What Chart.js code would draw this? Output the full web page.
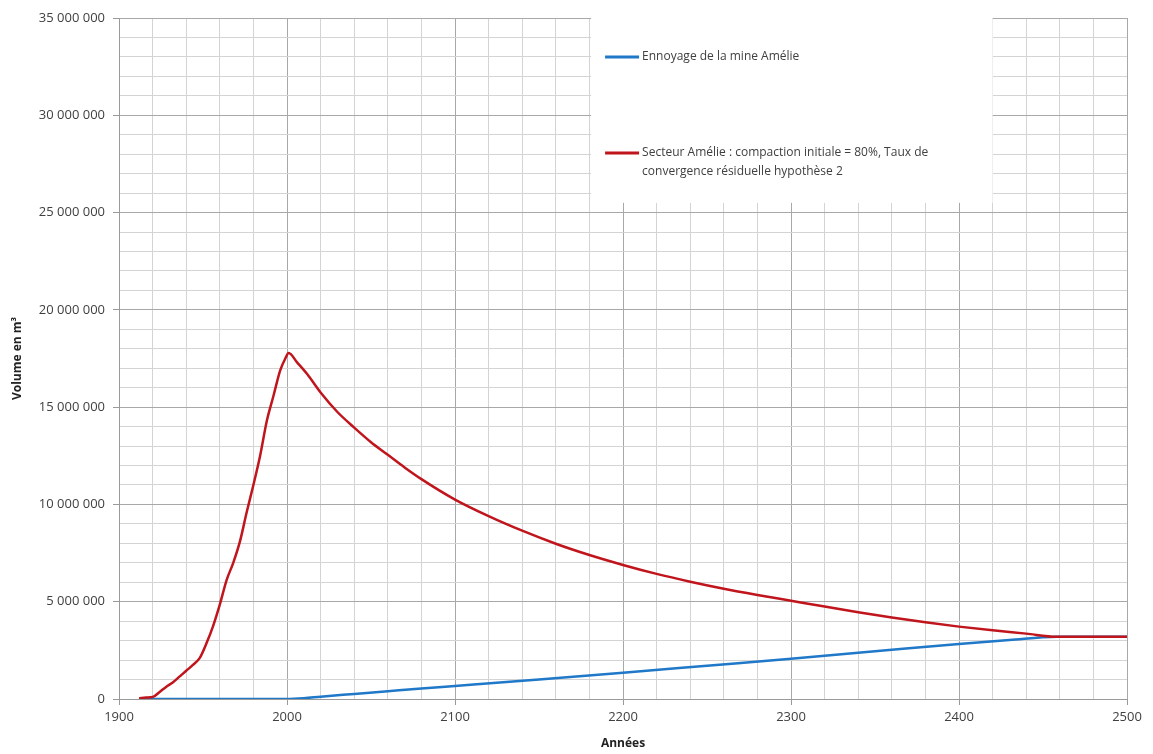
<!DOCTYPE html>
<html>
<head>
<meta charset="utf-8">
<script src="https://cdn.jsdelivr.net/npm/chart.js@4.4.1/dist/chart.umd.min.js"></script>
<style>
  html, body { margin: 0; padding: 0; background: #fff; }
  #wrap { width: 1153px; height: 754px; }
</style>
</head>
<body>
<div id="wrap"><canvas id="chart"></canvas></div>
<script>
// values, in millions of m3
const yearsSecteur = [1912, 1916, 1920, 1924, 1928, 1932, 1936, 1940, 1944, 1948, 1952, 1956, 1960, 1964, 1968, 1972, 1976, 1980, 1984, 1988, 1992, 1996, 1999, 2001, 2006, 2012, 2020, 2030, 2040, 2050, 2060, 2070, 2080, 2100, 2120, 2140, 2160, 2180, 2200, 2220, 2240, 2260, 2280, 2300, 2320, 2340, 2360, 2380, 2400, 2420, 2440, 2458, 2480, 2500];
const volSecteur = [0.03, 0.08, 0.1, 0.35, 0.62, 0.85, 1.15, 1.45, 1.75, 2.1, 2.85, 3.75, 4.85, 6.1, 7.0, 8.1, 9.6, 11.0, 12.5, 14.3, 15.6, 16.9, 17.5, 17.78, 17.3, 16.7, 15.75, 14.75, 13.95, 13.2, 12.55, 11.9, 11.3, 10.25, 9.4, 8.65, 7.98, 7.4, 6.89, 6.43, 6.03, 5.67, 5.35, 5.05, 4.75, 4.46, 4.19, 3.94, 3.72, 3.53, 3.36, 3.2, 3.2, 3.2];

const yearsEnnoyage = [1912, 1950, 2000, 2010, 2020, 2040, 2060, 2080, 2100, 2150, 2200, 2250, 2300, 2350, 2400, 2430, 2458, 2500];
const volEnnoyage = [0, 0, 0, 0.04, 0.12, 0.26, 0.4, 0.54, 0.67, 1.0, 1.35, 1.71, 2.07, 2.45, 2.83, 3.03, 3.2, 3.2];

const labelEnnoyage = 'Ennoyage de la mine Amélie';
const labelSecteur = 'Secteur Amélie : compaction initiale = 80%, Taux de convergence résiduelle hypothèse 2';

const FONT = 'Open Sans';
const TEXT = '#404040';

function toPoints(xs, ys) {
  return xs.map((x, i) => ({ x: x, y: ys[i] * 1e6 }));
}

function fmt(v) {
  return String(Math.round(v)).replace(/\B(?=(\d{3})+(?!\d))/g, ' ');
}

// legend sitting in a white box inside the plot
const boxLegend = {
  id: 'boxLegend',
  beforeDatasetsDraw(chart) {
    const { ctx, scales } = chart;
    const x = scales.x;
    const y = scales.y;
    const left = x.getPixelForValue(2181);
    const right = x.getPixelForValue(2420);
    const top = y.getPixelForValue(35e6);
    const bottom = y.getPixelForValue(25.5e6);
    ctx.save();
    ctx.fillStyle = '#fff';
    ctx.fillRect(left, top, right - left, bottom - top);
    ctx.font = '12px "' + FONT + '"';
    ctx.textBaseline = 'middle';
    const items = [
      { ds: chart.data.datasets[1], y: top + 39 },
      { ds: chart.data.datasets[0], y: top + 135 }
    ];
    items.forEach(it => {
      ctx.strokeStyle = it.ds.borderColor;
      ctx.lineWidth = 3;
      ctx.beginPath();
      ctx.moveTo(left + 14, it.y);
      ctx.lineTo(left + 48, it.y);
      ctx.stroke();
      ctx.fillStyle = TEXT;
      const words = it.ds.label.split(' ');
      let line = '';
      let ly = it.y;
      words.forEach(w => {
        const test = line ? line + ' ' + w : w;
        if (ctx.measureText(test).width > 345 && line) {
          ctx.fillText(line, left + 51, ly);
          line = w;
          ly += 19;
        } else {
          line = test;
        }
      });
      ctx.fillText(line, left + 51, ly);
    });
    ctx.restore();
  }
};

const ctx = document.getElementById('chart').getContext('2d');

new Chart(ctx, {
  type: 'line',
  data: {
    datasets: [
      {
        label: labelSecteur,
        data: toPoints(yearsSecteur, volSecteur),
        borderColor: '#c0151c',
        borderWidth: 2.5,
        pointRadius: 0,
        cubicInterpolationMode: 'monotone',
        order: 0
      },
      {
        label: labelEnnoyage,
        data: toPoints(yearsEnnoyage, volEnnoyage),
        borderColor: '#1f78c8',
        borderWidth: 2.5,
        pointRadius: 0,
        cubicInterpolationMode: 'monotone',
        order: 1
      }
    ]
  },
  options: {
    responsive: true,
    maintainAspectRatio: false,
    animation: false,
    layout: { padding: { top: 18, right: 26, left: 0, bottom: 0 } },
    plugins: {
      legend: { display: false },
      tooltip: { enabled: false }
    },
    scales: {
      x: {
        type: 'linear',
        min: 1900,
        max: 2500,
        afterFit: s => { s.height = 55; },
        border: { color: '#9a9a9a' },
        grid: {
          color: c => (c.tick && c.tick.value % 100 === 0) ? '#a8a8a8' : '#d4d4d4',
          tickColor: c => (c.tick && c.tick.value % 100 === 0) ? '#9a9a9a' : 'rgba(0,0,0,0)',
          tickLength: 6
        },
        ticks: {
          stepSize: 20,
          autoSkip: false,
          maxRotation: 0,
          padding: 4,
          color: TEXT,
          font: { family: FONT, size: 13 },
          callback: v => v % 100 === 0 ? String(v) : ''
        },
        title: {
          display: true,
          text: 'Années',
          color: '#222',
          padding: { top: 0, bottom: 3 },
          font: { family: FONT, size: 12, weight: 'bold' }
        }
      },
      y: {
        min: 0,
        max: 35e6,
        afterFit: s => { s.width = 119; },
        border: { color: '#9a9a9a' },
        grid: {
          color: c => (c.tick && c.tick.value % 5e6 === 0) ? '#a8a8a8' : '#d4d4d4',
          tickColor: c => (c.tick && c.tick.value % 5e6 === 0) ? '#9a9a9a' : 'rgba(0,0,0,0)',
          tickLength: 6
        },
        ticks: {
          stepSize: 1e6,
          autoSkip: false,
          padding: 8,
          color: TEXT,
          font: { family: FONT, size: 13 },
          callback: v => v % 5e6 === 0 ? fmt(v) : ''
        },
        title: {
          display: true,
          text: 'Volume en m³',
          color: '#222',
          padding: { top: 10, bottom: 0 },
          font: { family: FONT, size: 12, weight: 'bold' }
        }
      }
    }
  },
  plugins: [boxLegend]
});
</script>
</body>
</html>
